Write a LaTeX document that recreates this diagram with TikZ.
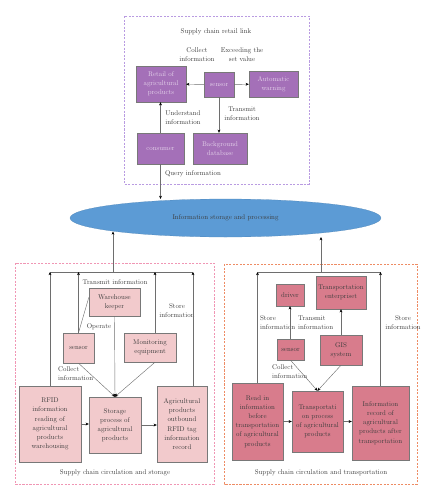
\documentclass[tikz,border=0pt]{standalone}
\usepackage{tikz}
\usetikzlibrary{arrows.meta, shapes.geometric}
\definecolor{retailfill}{RGB}{164,112,184}
\definecolor{retailtext}{RGB}{228,210,234}
\definecolor{storefill}{RGB}{242,202,204}
\definecolor{transfill}{RGB}{216,124,140}
\definecolor{infofill}{RGB}{92,155,213}
\definecolor{retailline}{RGB}{185,155,225}
\definecolor{storeline}{RGB}{240,150,180}
\definecolor{transline}{RGB}{238,140,100}
\definecolor{boxline}{RGB}{120,120,120}
\definecolor{linkline}{RGB}{110,110,110}
\definecolor{labeltext}{RGB}{60,60,60}

\begin{document}
\begin{tikzpicture}[x=0.05cm, y=-0.05cm,
  every node/.style={font=\fontsize{9.8}{13}\selectfont, text=labeltext},
  box/.style={draw=boxline, line width=0.6pt, align=center, inner sep=1pt},
  retailbox/.style={box, fill=retailfill, text=retailtext},
  storebox/.style={box, fill=storefill},
  transbox/.style={box, fill=transfill},
  area/.style={dash pattern=on 3pt off 2pt, line width=0.7pt},
  link/.style={draw=linkline, line width=0.6pt},
  arrow/.style={link, -{Stealth[length=4.5pt,width=4pt,color=black]}},
  lbl/.style={align=center, inner sep=0pt}]
\useasboundingbox (0,0) rectangle (437,500);

\draw[area, retailline] (124,16) rectangle (309,184);
\draw[area, storeline] (15,263) rectangle (214,484);
\draw[area, transline] (224,264) rectangle (417,484);

\node (info) at (225.5,218) [ellipse, fill=infofill, draw=infofill!85!black, line width=0.3pt,
  minimum width=15.55cm, minimum height=1.9cm, inner sep=0pt] {Information storage and processing};

\node (retailtitle) at (216,32) [lbl] {Supply chain retail link};
\node (retail) at (161,84) [retailbox, minimum width=2.5cm, minimum height=1.8cm] {Retail of\\agricultural\\products};
\node (sensorR) at (219,84.5) [retailbox, minimum width=1.5cm, minimum height=1.25cm] {sensor};
\node (warning) at (273.5,84) [retailbox, minimum width=2.45cm, minimum height=1.3cm] {Automatic\\warning};
\node (consumer) at (160.5,148.5) [retailbox, minimum width=2.35cm, minimum height=1.55cm] {consumer};
\node (database) at (220,148.5) [retailbox, minimum width=2.7cm, minimum height=1.55cm] {Background\\database};
\node (collectR) at (197,54.5) [lbl] {Collect\\information};
\node (exceed) at (242,54.5) [lbl] {Exceeding the\\set value};
\node (transmitR) at (242,113.5) [lbl] {Transmit\\information};
\node (understand) at (183,117.5) [lbl] {Understand\\information};
\node (query) at (193,174) [lbl] {Query information};

\draw[arrow] (sensorR) -- (retail);
\draw[arrow] (sensorR) -- (warning);
\draw[arrow] (sensorR.south) -- (sensorR.south |- database.north);
\draw[arrow] (consumer.north) -- (consumer.north |- retail.south);
\draw[arrow] (consumer.south) -- (consumer.south |- info.north);

\node (storetitle) at (115,473) [lbl] {Supply chain circulation and storage};
\node (keeper) at (114.5,302) [storebox, minimum width=2.55cm, minimum height=1.4cm] {Warehouse\\keeper};
\node (sensorL) at (78.5,348) [storebox, minimum width=1.55cm, minimum height=1.5cm] {sensor};
\node (monitor) at (150,347.5) [storebox, minimum width=2.6cm, minimum height=1.45cm] {Monitoring\\equipment};
\node (rfid) at (50,424) [storebox, minimum width=3.1cm, minimum height=3.8cm] {RFID\\information\\reading of\\agricultural\\products\\warehousing};
\node (storage) at (115,425) [storebox, minimum width=2.6cm, minimum height=2.8cm] {Storage\\process of\\agricultural\\products};
\node (outbound) at (182,424) [storebox, minimum width=2.5cm, minimum height=3.8cm] {Agricultural\\products\\outbound\\RFID tag\\information\\record};
\node (transmitL) at (115,282) [lbl] {Transmit information};
\node (operate) at (99,327) [lbl] {Operate};
\node (storeL) at (177,311) [lbl] {Store\\information};
\node (collectL) at (58,373.5) [lbl, anchor=west, align=left] {Collect\\information};

\coordinate (busL1) at (50,272);
\coordinate (busL2) at (78.5,272);
\coordinate (busL3) at (155,272);
\coordinate (busL4) at (193,272);
\coordinate (busLup) at (113,272);
\draw[link] (busL1) -- (busL4);
\draw[arrow] (busLup) -- (busLup |- info.187);
\draw[arrow] (rfid.north) -- (busL1);
\draw[arrow] (sensorL.north) -- (busL2);
\draw[arrow] (monitor.north -| busL3) -- (busL3);
\draw[arrow] (outbound.north -| busL4) -- (busL4);
\draw[link] (sensorL.north) -- (keeper.170);
\draw[arrow] (keeper.south) -- (storage.north);
\draw[arrow] (sensorL.south) -- (storage.north);
\draw[arrow] (monitor.south -| busL3) -- (storage.north);
\draw[arrow] (rfid) -- (rfid -| storage.west);
\draw[arrow] (storage) -- (storage -| outbound.west);

\node (transtitle) at (321,473) [lbl] {Supply chain circulation and transportation};
\node (driver) at (290,295) [transbox, minimum width=1.4cm, minimum height=1.1cm] {driver};
\node (enterprise) at (341,292.5) [transbox, minimum width=2.5cm, minimum height=1.65cm] {Transportation\\enterpriset};
\node (sensorT) at (290.5,349.5) [transbox, minimum width=1.35cm, minimum height=1.05cm] {sensor};
\node (gis) at (341,350) [transbox, minimum width=2.1cm, minimum height=1.5cm] {GIS\\system};
\node (readin) at (257.5,421.5) [transbox, minimum width=2.55cm, minimum height=3.85cm] {Read in\\information\\before\\transportation\\of agricultural\\products};
\node (transport) at (317.5,421.5) [transbox, minimum width=2.55cm, minimum height=3.05cm] {Transportati\\on process\\of agricultural\\products};
\node (record) at (380.5,423) [transbox, minimum width=2.85cm, minimum height=3.7cm] {Information\\record of\\agricultural\\products after\\transportation};
\node (storeT1) at (260,322.5) [lbl, anchor=west, align=left] {Store\\information};
\node (transmitT) at (298,322.5) [lbl, anchor=west, align=left] {Transmit\\information};
\node (storeT2) at (403,322.5) [lbl] {Store\\information};
\node (collectT) at (272,372) [lbl, anchor=west, align=left] {Collect\\information};

\coordinate (busT1) at (257.5,272);
\coordinate (busT2) at (380.5,272);
\coordinate (busTup) at (321,272);
\draw[link] (busT1) -- (busT2);
\draw[arrow] (busTup) -- (busTup |- info.south);
\draw[arrow] (readin.north) -- (busT1);
\draw[arrow] (record.north) -- (busT2);
\draw[arrow] (sensorT.north -| driver) -- (driver.south);
\draw[arrow] (gis.north) -- (gis.north |- enterprise.south);
\draw[arrow] (sensorT.south) -- (transport.north);
\draw[arrow] (gis.south) -- (transport.north);
\draw[arrow] (readin) -- (readin -| transport.west);
\draw[arrow] (transport) -- (transport -| record.west);
\end{tikzpicture}
\end{document}
